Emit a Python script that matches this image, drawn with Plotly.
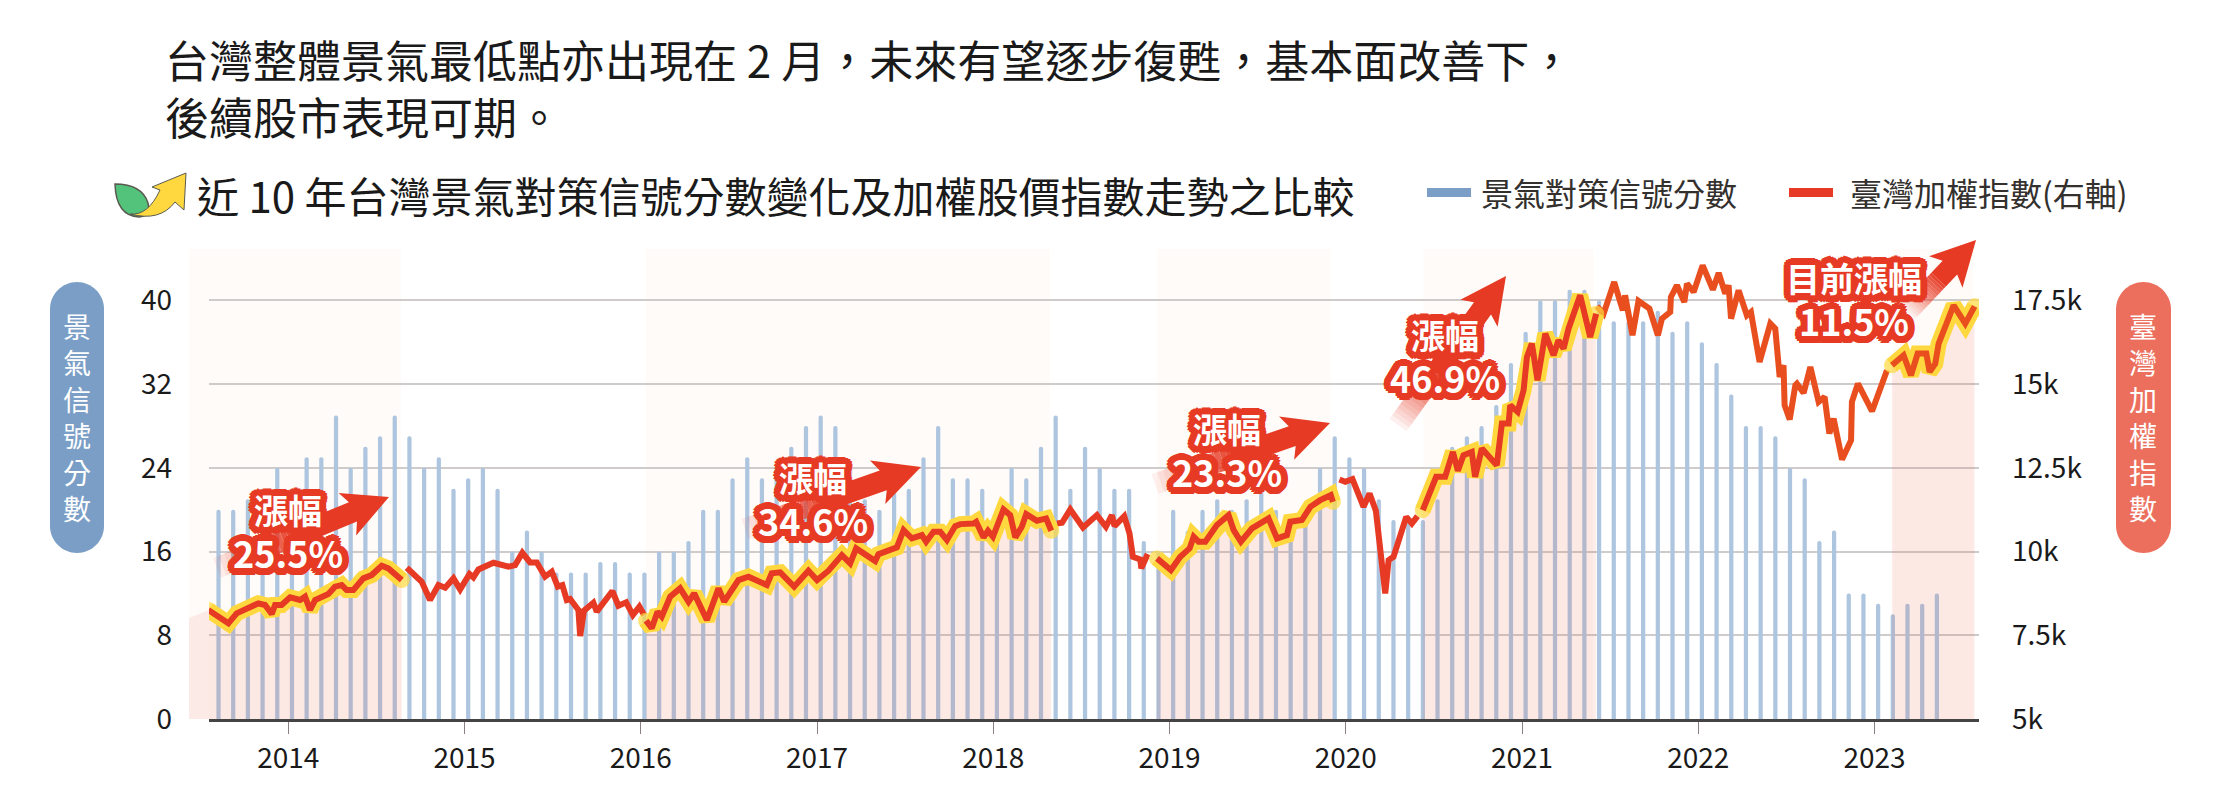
import math
import plotly.graph_objects as go

FONT = "Noto Sans CJK TC"
RED = "#E63A24"
ORANGE = "#E94E1E"
YELLOW = "#FFD83F"

# monthly business signal score, first bar is Aug 2013
signal_start = 2013.604
signal_scores = [
    20, 20, 21, 22, 24, 22, 25, 25, 29, 24, 26, 27, 29, 27, 24, 25, 22, 23, 24, 22,
    16, 18, 16, 14, 14, 14, 15, 15, 14, 14, 16, 16, 17, 20, 20, 23, 25, 23, 24, 26,
    28, 29, 28, 24, 21, 20, 23, 22, 25, 28, 23, 23, 22, 20, 24, 23, 26, 29, 22, 26,
    24, 22, 22, 17, 16, 20, 18, 20, 21, 20, 21, 22, 20, 18, 20, 24, 27, 25, 24, 21,
    19, 19, 19, 21, 26, 27, 28, 30, 34, 37, 40, 40, 41, 41, 40, 38, 38, 38, 39, 37,
    38, 36, 34, 31, 28, 28, 27, 24, 23, 17, 18, 12, 12, 11, 10, 11, 11, 12,
]

# TAIEX
index_x = [
    2013.546, 2013.660, 2013.707, 2013.754, 2013.830, 2013.868, 2013.906, 2013.925, 2013.962, 2014.010,
    2014.067, 2014.095, 2014.123, 2014.152, 2014.227, 2014.265, 2014.303, 2014.331, 2014.369, 2014.426,
    2014.473, 2014.530, 2014.568, 2014.644,
    2014.672, 2014.757, 2014.804, 2014.852, 2014.890, 2014.937, 2014.975, 2015.028, 2015.050, 2015.079,
    2015.164, 2015.249, 2015.287, 2015.328, 2015.372, 2015.410, 2015.457, 2015.495, 2015.529, 2015.555,
    2015.580, 2015.599, 2015.646, 2015.656, 2015.678, 2015.731, 2015.750, 2015.839, 2015.873, 2015.917,
    2015.955, 2015.992, 2016.019,
    2016.030, 2016.062, 2016.095, 2016.119, 2016.167, 2016.223, 2016.271, 2016.303, 2016.375, 2016.441,
    2016.473, 2016.554, 2016.611, 2016.715, 2016.743, 2016.791, 2016.870, 2016.951, 2017.000, 2017.065,
    2017.141, 2017.188, 2017.222, 2017.330, 2017.349, 2017.453, 2017.491, 2017.538, 2017.595, 2017.619,
    2017.661, 2017.699, 2017.737, 2017.784, 2017.813, 2017.888, 2017.903, 2017.945, 2017.970, 2017.998,
    2018.058, 2018.096, 2018.125, 2018.162, 2018.187, 2018.248, 2018.300, 2018.329,
    2018.361, 2018.390, 2018.437, 2018.509, 2018.588, 2018.639, 2018.673, 2018.688, 2018.743, 2018.773,
    2018.792, 2018.834, 2018.840, 2018.876,
    2018.929, 2019.008, 2019.061, 2019.114, 2019.137, 2019.165, 2019.203, 2019.269, 2019.335, 2019.364,
    2019.405, 2019.468, 2019.562, 2019.610, 2019.666, 2019.685, 2019.751, 2019.799, 2019.855, 2019.915,
    2019.927,
    2019.964, 2019.997, 2020.038, 2020.101, 2020.135, 2020.171, 2020.224, 2020.243, 2020.271, 2020.343,
    2020.375, 2020.407,
    2020.437, 2020.470, 2020.513, 2020.564, 2020.608, 2020.636, 2020.668, 2020.715, 2020.734, 2020.772,
    2020.857, 2020.886, 2020.924, 2020.933, 2020.975, 2021.009, 2021.028, 2021.056, 2021.088, 2021.132,
    2021.179, 2021.207, 2021.236, 2021.264, 2021.330, 2021.387, 2021.421,
    2021.425, 2021.463, 2021.523, 2021.572, 2021.585, 2021.627, 2021.661, 2021.723, 2021.771, 2021.794,
    2021.841, 2021.845, 2021.879, 2021.921, 2021.936, 2021.974, 2022.025, 2022.083, 2022.116, 2022.153,
    2022.172, 2022.186, 2022.229, 2022.276, 2022.299, 2022.348, 2022.409, 2022.437, 2022.462, 2022.484,
    2022.490, 2022.519, 2022.551, 2022.560, 2022.598, 2022.636, 2022.683, 2022.717, 2022.744, 2022.768,
    2022.816, 2022.867, 2022.872, 2022.906, 2022.986, 2023.071,
    2023.099, 2023.165, 2023.207, 2023.245, 2023.294, 2023.313, 2023.345, 2023.364, 2023.449, 2023.515,
    2023.568,
]
index_values = [
    8254, 7856, 8154, 8254, 8453, 8403, 8135, 8403, 8403, 8632,
    8552, 8651, 8254, 8552, 8731, 8950, 8999, 8850, 8850, 9198,
    9297, 9576, 9496, 9148,
    9516, 9099, 8552, 8999, 8920, 9198, 8870, 9327, 9228, 9466,
    9665, 9546, 9596, 9963, 9675, 9675, 9248, 9397, 8950, 8999,
    8552, 8582, 8254, 7479, 8234, 8472, 8204, 8820, 8383, 8483,
    8105, 8353, 8105,
    7936, 7707, 8204, 8055, 8651, 8900, 8502, 8751, 7956, 8900,
    8502, 9148, 9248, 8999, 9347, 9377, 8950, 9427, 9148, 9427,
    9894, 9645, 10093, 9715, 9924, 10123, 10639, 10391, 10490, 10292,
    10590, 10590, 10341, 10759, 10818, 10838, 10888, 10421, 10620, 10441,
    11256, 11087, 10421, 10739, 11117, 10918, 10987, 10620,
    10838, 10858, 11256, 10719, 11087, 10739, 11087, 10759, 11057, 10540,
    9844, 9765, 9496, 9924,
    9795, 9447, 9844, 10093, 10441, 10292, 10292, 10789, 11087, 10639,
    10292, 10689, 10987, 10391, 10490, 10888, 10938, 11335, 11533, 11682,
    11483,
    12149, 12080, 12159, 11334, 11731, 11214, 8748, 9743, 9842, 11035,
    10836, 11056,
    11234, 11682, 12229, 12229, 12974, 12408, 12875, 12974, 12229, 13074,
    12577, 13819, 13819, 14366, 14168, 14814, 15808, 16206, 15112, 16504,
    15858, 16305, 16057, 16653, 17648, 16405, 17101,
    17319, 17101, 18045, 17200, 17648, 16454, 17478, 17250, 16454, 16952,
    17151, 17599, 17947, 17450, 17996, 17748, 18543, 17817, 18315, 17698,
    17947, 16952, 17797, 17052, 17151, 15660, 16803, 16654, 15212, 15560,
    14367, 13940, 14964, 15013, 14735, 15511, 14467, 14616, 13522, 13969,
    12746, 13323, 14467, 15013, 14188, 15411,
    15560, 15859, 15262, 15908, 15908, 15361, 15610, 16207, 17350, 16803,
    17320,
]

# rally stretches of the index, they get the yellow halo and the pink fill
rally_spans = [
    (2013.54, 2014.65),
    (2016.025, 2018.33),
    (2018.90, 2019.93),
    (2020.42, 2021.422),
    (2023.09, 2023.60),
]
flat_spans = [
    (2014.66, 2016.02),
    (2018.34, 2018.89),
    (2019.94, 2020.41),
    (2021.423, 2023.08),
]
band_spans = [
    (2013.55, 2014.64),
    (2016.03, 2018.32),
    (2018.93, 2019.915),
    (2020.44, 2021.405),
    (2023.106, 2023.56),
]

year_ticks = list(range(2014, 2024))
left_ticks = [0, 8, 16, 24, 32, 40]
right_ticks = [5000, 7500, 10000, 12500, 15000, 17500]
right_labels = ["5k", "7.5k", "10k", "12.5k", "15k", "17.5k"]

# plot area in page pixels, the decorations are placed from these
PLOT_L, PLOT_R, PLOT_T, PLOT_B = 209, 1979, 249, 719
BODY_MARGIN = 8  # the page body pushes the figure in by this much


def px(x):
    return (x - PLOT_L) / (PLOT_R - PLOT_L)


def py(y):
    return (PLOT_B - y) / (PLOT_B - PLOT_T)


def poly(points):
    return "M " + " L ".join(f"{px(x):.5f},{py(y):.5f}" for x, y in points) + " Z"


def paper_shape(path, color, opacity=1, layer="above"):
    return dict(type="path", xref="paper", yref="paper", path=path, fillcolor=color,
                opacity=opacity, layer=layer, line=dict(width=0))


def pill(x0, x1, y0, y1, color):
    r = (x1 - x0) / 2
    k = r * 0.55
    p = lambda x, y: f"{px(x):.5f},{py(y):.5f}"
    path = (f"M {p(x0, y0 + r)} C {p(x0, y0 + r - k)} {p(x0 + r - k, y0)} {p(x0 + r, y0)} "
            f"C {p(x0 + r + k, y0)} {p(x1, y0 + r - k)} {p(x1, y0 + r)} "
            f"L {p(x1, y1 - r)} C {p(x1, y1 - r + k)} {p(x0 + r + k, y1)} {p(x0 + r, y1)} "
            f"C {p(x0 + r - k, y1)} {p(x0, y1 - r + k)} {p(x0, y1 - r)} Z")
    return paper_shape(path, color)


def arrow(tail, tip, shaft, head_w, head_len, fade=0.45):
    dx, dy = tip[0] - tail[0], tip[1] - tail[1]
    length = math.hypot(dx, dy)
    ux, uy = dx / length, dy / length
    nx, ny = -uy, ux

    def at(d, off):
        return (tail[0] + ux * d + nx * off, tail[1] + uy * d + ny * off)

    neck = length - head_len
    fade_len = length * fade
    out = []
    steps = 14
    for i in range(steps):
        d0, d1 = fade_len * i / steps, fade_len * (i + 1) / steps
        out.append(paper_shape(poly([at(d0, -shaft / 2), at(d1, -shaft / 2), at(d1, shaft / 2), at(d0, shaft / 2)]),
                               RED, opacity=0.08 + 0.92 * i / steps))
    out.append(paper_shape(poly([at(fade_len, -shaft / 2), at(neck, -shaft / 2), at(neck - 6, -head_w / 2), tip,
                                 at(neck - 6, head_w / 2), at(neck, shaft / 2), at(fade_len, shaft / 2)]), RED))
    return out


def outline(radius, color):
    parts = []
    for r in (radius, radius * 0.6):
        for i in range(16):
            a = 2 * math.pi * i / 16
            parts.append(f"{r * math.cos(a):.1f}px {r * math.sin(a):.1f}px 0 {color}")
    return ", ".join(parts)


def label(x, y, head, pct):
    text = f'<b>{head}</b><br><b><span style="font-size:36px">{pct}</span></b>'
    return dict(xref="paper", yref="paper", x=px(x), y=py(y), text=text, showarrow=False,
                xanchor="center", yanchor="middle",
                font=dict(family=FONT, size=34, color="white", shadow=outline(7, RED)))


def plain(x, y, text, size, color="#1A1A1A", xanchor="left", align="left"):
    return dict(xref="paper", yref="paper", x=px(x), y=py(y), text=text, showarrow=False,
                xanchor=xanchor, yanchor="middle", align=align,
                font=dict(family=FONT, size=size, color=color))


def pick(lo, hi):
    keep = [i for i, x in enumerate(index_x) if lo <= x <= hi]
    return [index_x[i] for i in keep], [index_values[i] for i in keep]


fig = go.Figure()

fig.add_trace(go.Bar(
    x=[signal_start + i / 12 for i in range(len(signal_scores))],
    y=signal_scores,
    width=0.024,
    marker=dict(color="#AEC5DF", cornerradius=2, line=dict(width=0)),
    yaxis="y",
))

for lo, hi in rally_spans:
    xs, ys = pick(lo, hi)
    fig.add_trace(go.Scatter(x=xs, y=ys, yaxis="y2", mode="none", fill="tozeroy",
                             fillcolor="rgba(233,60,35,0.09)"))

for n, (lo, hi) in enumerate(flat_spans):
    xs, ys = pick(lo, hi)
    fig.add_trace(go.Scatter(x=xs, y=ys, yaxis="y2", mode="lines",
                             line=dict(color=ORANGE if n == 3 else RED, width=6)))

for n, (lo, hi) in enumerate(rally_spans):
    xs, ys = pick(lo, hi)
    sizes = [16] + [0] * (len(xs) - 2) + [16]
    fig.add_trace(go.Scatter(x=xs, y=ys, yaxis="y2", mode="lines+markers",
                             line=dict(color=YELLOW, width=16),
                             marker=dict(color=YELLOW, size=sizes, line=dict(width=0))))
    fig.add_trace(go.Scatter(x=xs, y=ys, yaxis="y2", mode="lines",
                             line=dict(color=ORANGE if n == 4 else RED, width=6)))

shapes = [dict(type="rect", xref="x", yref="paper", x0=a, x1=b, y0=0, y1=1,
               fillcolor="#FFFBF8", line=dict(width=0), layer="below") for a, b in band_spans]
# the first band starts left of the axis
shapes.append(paper_shape(poly([(189, 249), (209, 249), (209, 719), (189, 719)]), "#FFFBF8", layer="below"))
shapes.append(paper_shape(poly([(189, 618), (209, 610), (209, 719), (189, 719)]), "#FCEAE6", layer="below"))

shapes += arrow((217, 568), (389, 497), 21, 46, 39)
shapes += arrow((745, 529), (921, 467), 21, 46, 40)
shapes += arrow((1155, 484), (1330, 423), 21, 46, 40)
shapes += arrow((1398, 425), (1506, 276), 21, 46, 40, fade=0.35)
shapes += arrow((1908, 312), (1976, 240), 20, 46, 38)

shapes.append(pill(50, 104, 282, 553, "#7A9EC6"))
shapes.append(pill(2116, 2171, 282, 553, "#EC6F5E"))

# legend swatches
shapes.append(paper_shape(poly([(1427, 188), (1471, 188), (1471, 197), (1427, 197)]), "#7A9EC6"))
shapes.append(paper_shape(poly([(1789, 188), (1833, 188), (1833, 197), (1789, 197)]), RED))

# leaf and arrow icon beside the chart title
p = lambda x, y: f"{px(x):.5f},{py(y):.5f}"
shapes.append(dict(type="path", xref="paper", yref="paper", layer="above",
                   path=f"M {p(115, 184)} Q {p(142, 184)} {p(148, 203)} Q {p(151, 216)} {p(139, 217)} Q {p(116, 216)} {p(115, 184)} Z",
                   fillcolor="#53C27A", line=dict(color="#5A5A50", width=1.5)))
shapes.append(dict(type="path", xref="paper", yref="paper", layer="above",
                   path=(f"M {p(130, 214)} Q {p(148, 216)} {p(160, 190)} L {p(152, 187)} L {p(186, 173)} L {p(184, 210)} "
                         f"L {p(175, 202)} Q {p(160, 222)} {p(130, 214)} Z"),
                   fillcolor=YELLOW, line=dict(color="#5A5A50", width=1)))

annotations = [
    plain(163, 87, "台灣整體景氣最低點亦出現在 2 月\uff0c未來有望逐步復甦\uff0c基本面改善下\uff0c<br>後續股市表現可期。", 44),
    plain(195, 194, "近 10 年台灣景氣對策信號分數變化及加權股價指數走勢之比較", 42),
    plain(1479, 192, "景氣對策信號分數", 32, color="#33302E"),
    plain(1848, 192, "臺灣加權指數(右軸)", 32, color="#33302E"),
    label(288, 531, "漲幅", "25.5%"),
    label(813, 499, "漲幅", "34.6%"),
    label(1227, 450, "漲幅", "23.3%"),
    label(1445, 356, "漲幅", "46.9%"),
    label(1854, 299, "目前漲幅", "11.5%"),
    plain(77, 417, "<br>".join("景氣信號分數"), 28, color="white", xanchor="center", align="center"),
    plain(2143, 417, "<br>".join("臺灣加權指數"), 28, color="white", xanchor="center", align="center"),
]

fig.update_layout(
    width=2220 - 2 * BODY_MARGIN,
    height=800 - 2 * BODY_MARGIN,
    margin=dict(l=PLOT_L - BODY_MARGIN, r=2220 - BODY_MARGIN - PLOT_R,
                t=PLOT_T - BODY_MARGIN, b=800 - BODY_MARGIN - PLOT_B, pad=0),
    paper_bgcolor="white",
    plot_bgcolor="rgba(0,0,0,0)",
    showlegend=False,
    barmode="overlay",
    hovermode=False,
    font=dict(family=FONT, size=28, color="#1A1A1A"),
    shapes=shapes,
    annotations=annotations,
    xaxis=dict(
        range=[2013.55, 2023.593],
        tickvals=year_ticks,
        ticktext=[str(y) for y in year_ticks],
        ticks="outside",
        ticklen=12,
        tickwidth=1,
        tickcolor="#8A8088",
        showgrid=False,
        zeroline=False,
        showline=True,
        linecolor="#444444",
        linewidth=3,
        tickfont=dict(family=FONT, size=28),
    ),
    yaxis=dict(
        range=[0, 44.9],
        tickvals=left_ticks,
        gridcolor="#CFCBCB",
        gridwidth=1.5,
        zeroline=False,
        ticklabelstandoff=36,
        tickfont=dict(family=FONT, size=28),
    ),
    yaxis2=dict(
        overlaying="y",
        side="right",
        range=[5000, 19031],
        tickvals=right_ticks,
        ticktext=right_labels,
        showgrid=False,
        zeroline=False,
        ticklabelstandoff=32,
        tickfont=dict(family=FONT, size=28),
    ),
)

fig.write_html("out.html")
